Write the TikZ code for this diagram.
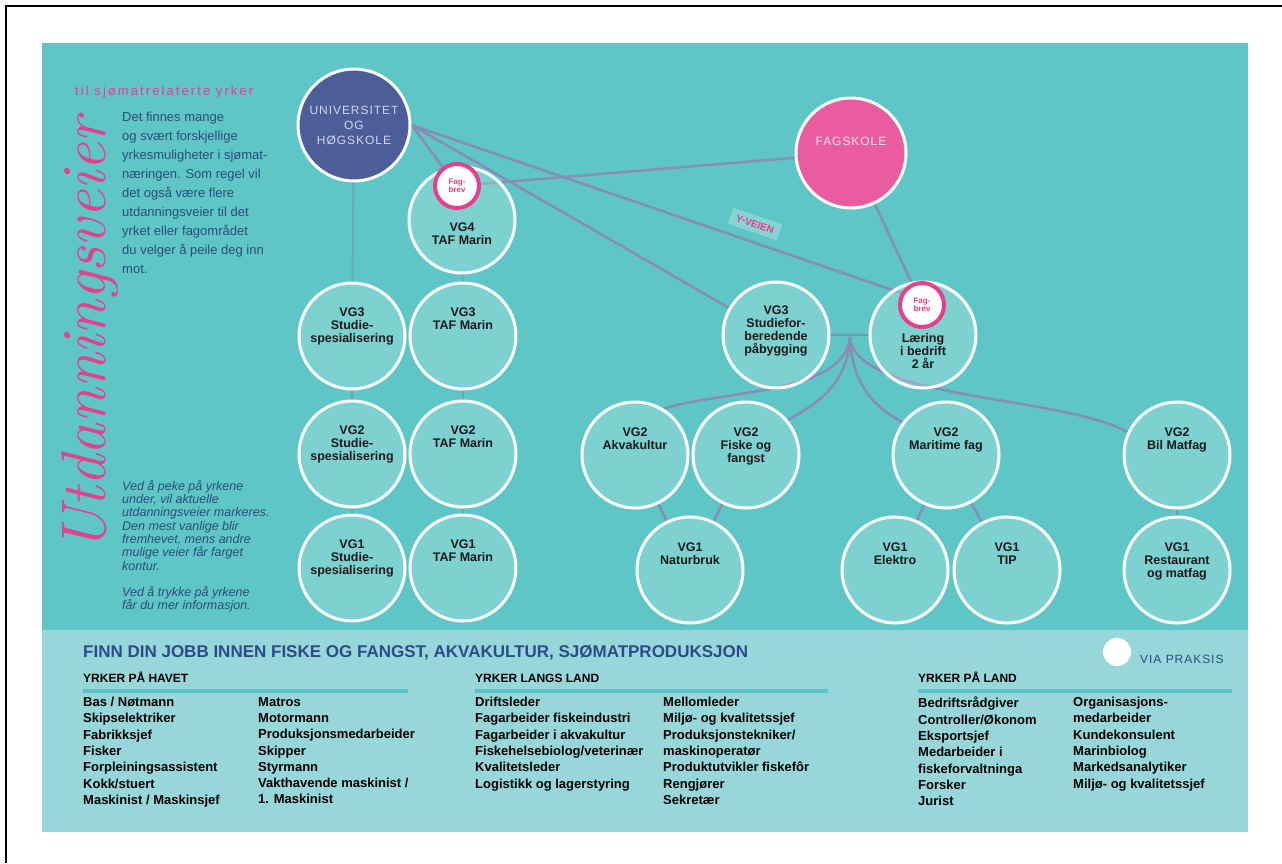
\documentclass[tikz,border=0pt]{standalone}
\usepackage{fontspec}
\setsansfont{Liberation Sans}
\newfontfamily\spacedsans[LetterSpace=8]{Liberation Sans}
\newfontfamily\widesans[LetterSpace=16]{Liberation Sans}
\usetikzlibrary{backgrounds}
\definecolor{seabg}{HTML}{5EC6C6}
\definecolor{panelbg}{HTML}{98D7D9}
\definecolor{uniblue}{HTML}{4B5E98}
\definecolor{unitext}{HTML}{D0D6EC}
\definecolor{fagpink}{HTML}{E95C9F}
\definecolor{fagtext}{HTML}{FBE0EC}
\definecolor{rosa}{HTML}{E6408C}
\definecolor{textblue}{HTML}{2C4C7C}
\definecolor{titleblue}{HTML}{2B4B8C}
\definecolor{linkc}{HTML}{8A8CB8}
\definecolor{stemc}{HTML}{6AA9B5}
\definecolor{headc}{HTML}{5BC3C7}
\tikzset
{
	vgnode/.style = {circle, draw=white, line width=3pt, fill=white, fill opacity=0.2, text opacity=1, minimum size=106pt, inner sep=0pt},
	vglabel/.style = {anchor=north, align=center, inner sep=0pt, text=black!90, font=\sffamily\bfseries\fontsize{12.5}{13}\selectfont},
	bignode/.style = {circle, draw=white, line width=3pt, minimum size=112pt, inner sep=0pt, align=center, font=\spacedsans\fontsize{12}{15}\selectfont},
	fagbrev/.style = {circle, draw=rosa, line width=4pt, fill=white, minimum size=44pt, inner sep=0pt, align=center, text=rosa, font=\sffamily\bfseries\fontsize{8}{8.5}\selectfont},
	link/.style = {draw=linkc, line width=2.5pt},
	stem/.style = {draw=stemc, line width=2pt},
	joblist/.style = {anchor=north west, align=left, inner sep=0pt, font=\sffamily\bfseries\fontsize{13}{16.3}\selectfont},
	jobhead/.style = {anchor=base west, inner sep=0pt, font=\sffamily\bfseries\fontsize{12}{12}\selectfont},
	headline/.style = {draw=headc, line width=4pt}
}

\begin{document}
\begin{tikzpicture}[x=1pt, y=-1pt]
\useasboundingbox (0,0) rectangle (1282,863);
\begin{scope}[on background layer]
\fill[white] (0,0) rectangle (1282,863);
\draw[black, line width=2pt] (6,863) -- (6,6) -- (1282,6);
\fill[seabg] (42,43) rectangle (1248,630);
\fill[panelbg] (42,630) rectangle (1248,832);
\end{scope}

% left text
\node[rotate=90, anchor=base west, inner sep=0pt, text=rosa, font=\itshape\fontsize{63}{63}\selectfont] (heading) at (105,553) {Utdanningsveier};
\node[anchor=base west, inner sep=0pt, text=rosa, font=\widesans\fontsize{13}{13}\selectfont] (subtitle) at (75,95) {til sjømatrelaterte yrker};
\node[anchor=north west, align=left, inner sep=0pt, text=textblue, font=\sffamily\fontsize{13}{19}\selectfont] (intro) at (122,112)
  {Det finnes mange\\og svært forskjellige\\yrkesmuligheter i sjømat-\\næringen. Som regel vil\\det også være flere\\utdanningsveier til det\\yrket eller fagområdet\\du velger å peile deg inn\\mot.};
\node[anchor=north west, align=left, inner sep=0pt, text=textblue, font=\sffamily\itshape\fontsize{12.5}{13.3}\selectfont] (hint) at (122,480)
  {Ved å peke på yrkene\\under, vil aktuelle\\utdanningsveier markeres.\\Den mest vanlige blir\\fremhevet, mens andre\\mulige veier får farget\\kontur.\\[13.3pt]Ved å trykke på yrkene\\får du mer informasjon.};

% top level
\node[bignode, fill=uniblue, text=unitext] (uni) at (354,125) {UNIVERSITET\\OG\\HØGSKOLE};
\node[bignode, fill=fagpink, text=fagtext, minimum size=110pt] (fag) at (851,153) {FAGSKOLE\\[8pt]};

% left columns
\node[vgnode] (vg4) at (462,220) {};
\node[vglabel] (vg4t) at (462,223) {VG4\\TAF Marin};
\node[fagbrev] (fb4) at (457,186) {Fag-\\brev};
\node[vgnode] (vg3s) at (352,336) {};
\node[vglabel] (vg3st) at (352,308) {VG3\\Studie-\\spesialisering};
\node[vgnode] (vg3t) at (463,336) {};
\node[vglabel] (vg3tt) at (463,308) {VG3\\TAF Marin};
\node[vgnode] (vg2s) at (352,454) {};
\node[vglabel] (vg2st) at (352,426) {VG2\\Studie-\\spesialisering};
\node[vgnode] (vg2t) at (463,454) {};
\node[vglabel] (vg2tt) at (463,426) {VG2\\TAF Marin};
\node[vgnode] (vg1s) at (352,568) {};
\node[vglabel] (vg1st) at (352,540) {VG1\\Studie-\\spesialisering};
\node[vgnode] (vg1t) at (463,568) {};
\node[vglabel] (vg1tt) at (463,540) {VG1\\TAF Marin};

% right tree
\node[vgnode] (vg3p) at (776,335) {};
\node[vglabel] (vg3pt) at (776,306) {VG3\\Studiefor-\\beredende\\påbygging};
\node[vgnode] (laer) at (923,335) {};
\node[vglabel] (laert) at (923,333) {Læring\\i bedrift\\2 år};
\node[fagbrev] (fbL) at (922,305) {Fag-\\brev};
\coordinate (hub) at (850,337);

\node[vgnode] (akva) at (635,455) {};
\node[vglabel] (akvat) at (635,428) {VG2\\Akvakultur};
\node[vgnode] (fiske) at (746,455) {};
\node[vglabel] (fisket) at (746,428) {VG2\\Fiske og\\fangst};
\node[vgnode] (mari) at (946,455) {};
\node[vglabel] (marit) at (946,428) {VG2\\Maritime fag};
\node[vgnode] (bil) at (1177,455) {};
\node[vglabel] (bilt) at (1177,428) {VG2\\Bil Matfag};
\node[vgnode] (natur) at (690,570) {};
\node[vglabel] (naturt) at (690,543) {VG1\\Naturbruk};
\node[vgnode] (elek) at (895,570) {};
\node[vglabel] (elekt) at (895,543) {VG1\\Elektro};
\node[vgnode] (tip) at (1007,570) {};
\node[vglabel] (tipt) at (1007,543) {VG1\\TIP};
\node[vgnode] (rest) at (1177,570) {};
\node[vglabel] (restt) at (1177,543) {VG1\\Restaurant\\og matfag};

\node[rotate=-18.5, fill=white, fill opacity=0.25, text opacity=1, text=rosa, inner xsep=6pt, inner ysep=5pt, font=\sffamily\bfseries\fontsize{10}{10}\selectfont] (yveien) at (755,224) {Y-VEIEN};

\begin{scope}[on background layer]
\draw[stem] (uni) -- (vg3s);
\draw[stem] (vg3s) -- (vg2s);
\draw[stem] (vg2s) -- (vg1s);
\draw[stem] (vg4) -- (vg3t);
\draw[stem] (vg3t) -- (vg2t);
\draw[stem] (vg2t) -- (vg1t);
\draw[link] (uni.east) -- (fb4);
\draw[link] (uni.east) -- (vg3p);
\draw[link] (uni.east) -- (fbL.150);
\draw[link] (fb4) -- (fag);
\draw[link] (fag) -- (fbL);
\draw[link] (vg3p) -- (laer);
\draw[link] (hub) .. controls (845,395) and (720,390) .. (akva.58);
\draw[link] (hub) .. controls (848,385) and (815,405) .. (fiske.40);
\draw[link] (hub) .. controls (852,390) and (880,410) .. (mari.143);
\draw[link] (hub) .. controls (855,400) and (1060,395) .. (bil.155);
\draw[link] (akva) -- (natur);
\draw[link] (fiske) -- (natur);
\draw[link] (mari) -- (elek);
\draw[link] (mari) -- (tip);
\draw[link] (bil) -- (rest);
\end{scope}

% job lists
\node[anchor=base west, inner sep=0pt, text=titleblue, font=\sffamily\bfseries\fontsize{17}{17}\selectfont] (title) at (83,657) {FINN DIN JOBB INNEN FISKE OG FANGST, AKVAKULTUR, SJØMATPRODUKSJON};
\node[circle, fill=white, minimum size=28pt, inner sep=0pt] (viadot) at (1117,652) {};
\node[anchor=base west, inner sep=0pt, text=titleblue, font=\spacedsans\fontsize{12}{12}\selectfont] (via) at (1140,663) {VIA PRAKSIS};

\node[jobhead] (havet) at (83,682) {YRKER PÅ HAVET};
\draw[headline] (83,691) -- (408,691);
\node[joblist] (havet1) at (83,697) {Bas / Nøtmann\\Skipselektriker\\Fabrikksjef\\Fisker\\Forpleiningsassistent\\Kokk/stuert\\Maskinist / Maskinsjef};
\node[joblist] (havet2) at (258,697) {Matros\\Motormann\\Produksjonsmedarbeider\\Skipper\\Styrmann\\Vakthavende maskinist /\\1. Maskinist};

\node[jobhead] (langs) at (475,682) {YRKER LANGS LAND};
\draw[headline] (475,691) -- (828,691);
\node[joblist] (langs1) at (475,697) {Driftsleder\\Fagarbeider fiskeindustri\\Fagarbeider i akvakultur\\Fiskehelsebiolog/veterinær\\Kvalitetsleder\\Logistikk og lagerstyring};
\node[joblist] (langs2) at (663,697) {Mellomleder\\Miljø- og kvalitetssjef\\Produksjonstekniker/\\maskinoperatør\\Produktutvikler fiskefôr\\Rengjører\\Sekretær};

\node[jobhead] (land) at (918,682) {YRKER PÅ LAND};
\draw[headline] (918,691) -- (1232,691);
\node[joblist] (land1) at (918,697) {Bedriftsrådgiver\\Controller/Økonom\\Eksportsjef\\Medarbeider i\\fiskeforvaltninga\\Forsker\\Jurist};
\node[joblist] (land2) at (1073,697) {Organisasjons-\\medarbeider\\Kundekonsulent\\Marinbiolog\\Markedsanalytiker\\Miljø- og kvalitetssjef};
\end{tikzpicture}
\end{document}
